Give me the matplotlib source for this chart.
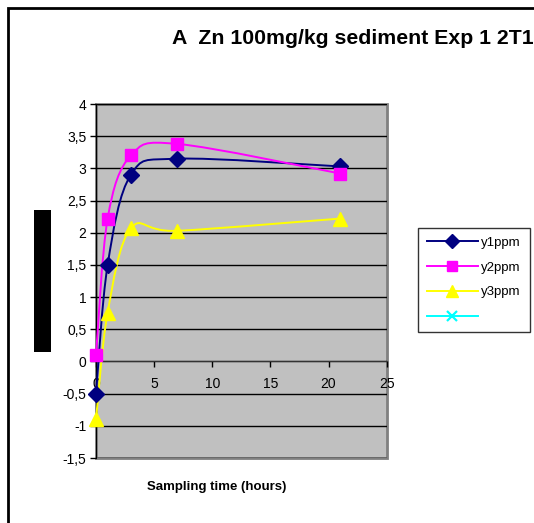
import numpy as np
import matplotlib
matplotlib.use("Agg")
import matplotlib.pyplot as plt
from matplotlib.path import Path
from matplotlib.patches import PathPatch, Rectangle
from matplotlib.lines import Line2D
from matplotlib.ticker import FuncFormatter

plt.rcParams['font.family'] = ['Liberation Sans', 'DejaVu Sans']

# ── DATOS ─────────────────────────────────────────────────────────────────────
horas = [0, 1, 3, 7, 21]
y1ppm = [-0.5, 1.5, 2.9, 3.15, 3.03]
y2ppm = [0.1, 2.22, 3.2, 3.38, 2.92]
y3ppm = [-0.9, 0.76, 2.07, 2.03, 2.22]

titulo = "A  Zn 100mg/kg sediment Exp 1 2T1"
xlabel = "Sampling time (hours)"
x_ticks = [0, 5, 10, 15, 20, 25]
y_ticks = [-1.5, -1, -0.5, 0, 0.5, 1, 1.5, 2, 2.5, 3, 3.5, 4]


def curva_suave(x, y):
    # línea suavizada tipo Excel (Bezier de Catmull-Rom)
    pts = np.column_stack([x, y]).astype(float)
    n = len(pts)
    verts = [pts[0]]
    codes = [Path.MOVETO]
    for i in range(n - 1):
        p0 = pts[i - 1] if i > 0 else pts[i]
        p1 = pts[i]
        p2 = pts[i + 1]
        p3 = pts[i + 2] if i + 2 < n else pts[i + 1]
        c1 = p1 + (p2 - p0) / 6
        c2 = p2 - (p3 - p1) / 6
        verts += [c1, c2, p2]
        codes += [Path.CURVE4] * 3
    return Path(verts, codes)


W, H = 534, 523
fig = plt.figure(figsize=(W / 100, H / 100), dpi=100)
fig.patch.set_facecolor('white')

# marco exterior
fig.add_artist(Rectangle((8 / W, -0.05), 1.2, 1 - 8 / H + 0.05, transform=fig.transFigure,
                         fill=False, edgecolor='black', linewidth=2))

ax = fig.add_axes([96 / W, 65 / H, 290.7 / W, 354 / H])
ax.set_facecolor('#C0C0C0')
ax.set_xlim(0, 25)
ax.set_ylim(-1.5, 4)

for sp in ['top', 'right']:
    ax.spines[sp].set_visible(False)
ax.spines['bottom'].set_position(('data', 0))
ax.spines['bottom'].set_color('#333333')
ax.spines['left'].set_color('black')
ax.add_patch(Rectangle((0, 0), 1, 1, transform=ax.transAxes, fill=False,
                       edgecolor='#808080', linewidth=2, zorder=0.5, clip_on=False))

for yv in y_ticks:
    ax.axhline(yv, color='black', linewidth=1, zorder=1)

ax.set_xticks(x_ticks)
ax.set_yticks(y_ticks)
ax.yaxis.set_major_formatter(FuncFormatter(lambda v, p: f"{v:g}".replace('.', ',')))
ax.tick_params(axis='both', direction='out', length=4, width=1, labelsize=10, colors='black')
ax.tick_params(axis='x', pad=7)
ax.tick_params(axis='y', pad=3)

series = [
    (y1ppm, '#000080', 'D', 8.5, 'y1ppm'),
    (y2ppm, '#FF00FF', 's', 8.5, 'y2ppm'),
    (y3ppm, '#FFFF00', '^', 10.5, 'y3ppm'),
]
for vals, color, mk, ms, lab in series:
    ax.add_patch(PathPatch(curva_suave(horas, vals), fill=False, edgecolor=color,
                           linewidth=1.4, zorder=3, clip_on=False))
    ax.plot(horas, vals, linestyle='none', marker=mk, markersize=ms, color=color,
            zorder=4, clip_on=False)

fig.text(172 / W, 1 - 38 / H, titulo, fontsize=15.3, fontweight='bold', va='center', ha='left')
fig.text(217 / W, 1 - 487 / H, xlabel, fontsize=9.5, fontweight='bold', va='center', ha='center')

# etiqueta del eje Y (tapada en el original)
fig.add_artist(Rectangle((34 / W, 1 - 352 / H), 16.5 / W, 142 / H, transform=fig.transFigure,
                         facecolor='black', edgecolor='none'))

handles = [
    Line2D([], [], color='#000080', marker='D', markersize=7, linewidth=1.4),
    Line2D([], [], color='#FF00FF', marker='s', markersize=7, linewidth=1.4),
    Line2D([], [], color='#FFFF00', marker='^', markersize=8, linewidth=1.4),
    Line2D([], [], color='#00FFFF', marker='x', markersize=7, markeredgewidth=1.6, linewidth=1.4),
]
leg = fig.legend(handles, ['y1ppm', 'y2ppm', 'y3ppm', ''], loc='upper left',
                 bbox_to_anchor=(418 / W, 1 - 228 / H), fontsize=9.5, frameon=True,
                 fancybox=False, edgecolor='black', handlelength=3.9, handletextpad=0.25,
                 borderpad=0.65, labelspacing=0.95, borderaxespad=0)
leg.get_frame().set_linewidth(1)

fig.savefig('out.png', dpi=100)
